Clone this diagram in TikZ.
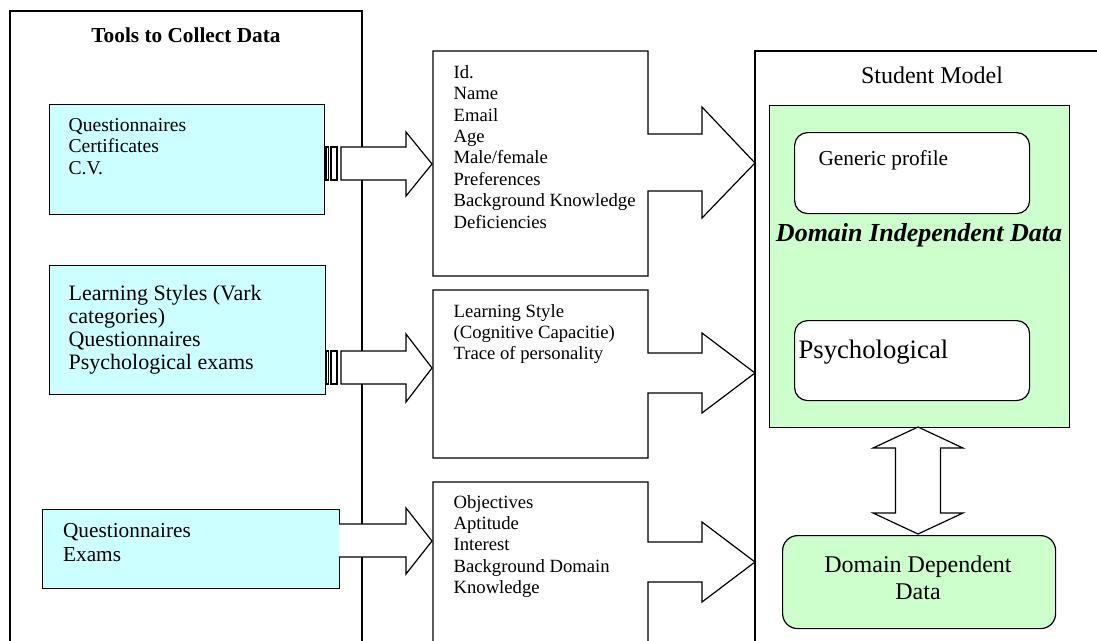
\documentclass[tikz,border=0pt]{standalone}
\usepackage{fontspec}
\setmainfont{Liberation Serif}
\definecolor{lblue}{HTML}{CCFFFF}
\definecolor{lgreen}{HTML}{CCFFCC}
\newcommand\fA{\fontsize{21.3}{24.5}\selectfont}
\newcommand\fQa{\fontsize{19.6}{21.5}\selectfont}
\newcommand\fQb{\fontsize{22}{23.3}\selectfont}
\newcommand\fM{\fontsize{18.67}{21.4}\selectfont}
\newcommand\fS{\fontsize{24}{27.6}\selectfont}
\newcommand\fP{\fontsize{26.67}{30.6}\selectfont}
\newcommand\linesL[1]{\begin{tabular}[t]{@{}l@{}}#1\end{tabular}}
\newcommand\linesC[1]{\begin{tabular}[t]{@{}c@{}}#1\end{tabular}}
\begin{document}
\begin{tikzpicture}[x=1pt,y=-1pt,line width=1.2pt,line join=miter,
  txt/.style={inner sep=0pt,anchor=base west},
  ctxt/.style={inner sep=0pt,anchor=base},
  bluebox/.style={draw,fill=lblue,anchor=north west,inner sep=0pt},
  frame/.style={draw,fill=white},
  blockarrow/.style={draw,fill=white},
  rbox/.style={draw,fill=white,rounded corners=13pt,anchor=north west,inner sep=0pt}]
\useasboundingbox (0,0) rectangle (1097,640);
\clip (0,0) rectangle (1097,640);

% outer frames
\draw (10,660) -- (10,11) -- (362,11) -- (362,660);
\node[ctxt] (title) at (186,42) {\fA\bfseries Tools to Collect Data};

% blue boxes
\node[bluebox,minimum width=275pt,minimum height=110pt] (qa) at (49,104) {};
\node[bluebox,minimum width=276pt,minimum height=129pt] (qb) at (49,265) {};
\node[bluebox,minimum width=297pt,minimum height=79pt] (qc) at (42,509) {};
\node[txt] (ta) at (68,131) {\fQa\linesL{Questionnaires\\Certificates\\C.V.}};
\node[txt] (tb) at (68,300) {\fQb\linesL{Learning Styles (Vark\\categories)\\Questionnaires\\Psychological exams}};
\node[txt] (tc) at (62.5,537) {\fA\linesL{Questionnaires\\Exams}};

% striped arrows A and B
\draw[blockarrow] (326,147) rectangle (328.5,180);
\draw[blockarrow] (331,147) rectangle (337,180);
\draw[blockarrow] (341,147) -- (406,147) -- (406,132) -- (432,164) -- (406,196) -- (406,180) -- (341,180) -- cycle;
\draw[blockarrow] (326,351) rectangle (328.5,384);
\draw[blockarrow] (331,351) rectangle (337,384);
\draw[blockarrow] (341,351) -- (406,351) -- (406,334) -- (432,368) -- (406,402) -- (406,384) -- (341,384) -- cycle;
% plain arrow C
\draw[blockarrow] (339,524) -- (406,524) -- (406,508) -- (432,541) -- (406,574) -- (406,557) -- (339,557);

% middle callout boxes
\draw[frame] (433,51) -- (648,51) -- (648,134) -- (702,134) -- (702,107) -- (755,163) -- (702,218) -- (702,191) -- (648,191) -- (648,276) -- (433,276) -- cycle;
\draw[frame] (433,290) -- (648,290) -- (648,353) -- (702,353) -- (702,333) -- (755,373) -- (702,413) -- (702,393) -- (648,393) -- (648,458) -- (433,458) -- cycle;
\draw[frame] (433,482) -- (648,482) -- (648,542) -- (702,542) -- (702,522) -- (755,562) -- (702,602) -- (702,582) -- (648,582) -- (648,660) -- (433,660) -- cycle;
\node[txt] (m1) at (453,78.3) {\fM\linesL{Id.\\Name\\Email\\Age\\Male/female\\Preferences\\Background Knowledge\\Deficiencies}};
\node[txt] (m2) at (453,317) {\fM\linesL{Learning Style\\(Cognitive Capacitie)\\Trace of personality}};
\node[txt] (m3) at (453,508) {\fM\linesL{Objectives\\Aptitude\\Interest\\Background Domain\\Knowledge}};

% student model frame
\draw (1110,51) -- (755,51) -- (755,660);
\node[ctxt] (sm) at (932,83) {\fS Student Model};
\node[draw,fill=lgreen,anchor=north west,inner sep=0pt,minimum width=300pt,minimum height=322pt] (green) at (769,105) {};
\node[rbox,minimum width=235pt,minimum height=81pt] (gen) at (794,132) {};
\node[txt] (gent) at (818,165) {\fA Generic profile};
\node[ctxt] (did) at (919,241) {\fontsize{26}{30}\selectfont\bfseries\itshape Domain Independent Data};
\node[rbox,minimum width=235pt,minimum height=80pt] (psy) at (794,320) {};
\node[txt] (psyt) at (798,358) {\fP Psychological};

% double arrow
\draw[blockarrow] (918,427) -- (963,448) -- (940.5,448) -- (940.5,513) -- (963,513) -- (918,534) -- (873,513) -- (895.5,513) -- (895.5,448) -- (873,448) -- cycle;

\node[draw,fill=lgreen,rounded corners=15pt,anchor=north west,inner sep=0pt,minimum width=273pt,minimum height=93pt] (dd) at (782,535) {};
\node[ctxt] (ddt) at (918,572) {\fS\linesC{Domain Dependent\\Data}};
\end{tikzpicture}
\end{document}
